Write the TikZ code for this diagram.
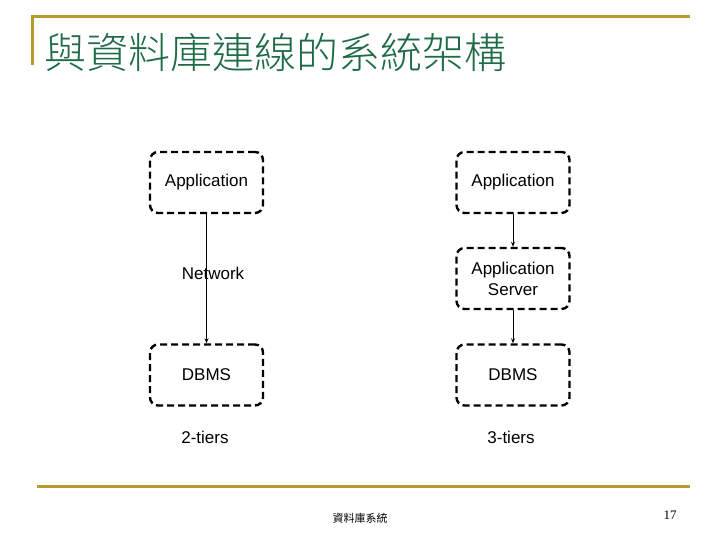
\documentclass[tikz,border=0pt]{standalone}
\usepackage{fontspec}
\setmainfont{Liberation Sans}
\newfontfamily\cjk{Noto Sans CJK TC}
\newfontfamily\cjklight{Noto Sans CJK TC Light}
\newfontfamily\serifnum{Liberation Serif}
\definecolor{gold}{HTML}{B89B2E}
\definecolor{tgreen}{HTML}{1E6B45}
\tikzset{
 tier/.style={draw, dashed, dash pattern=on 7pt off 4pt, line width=2.4pt, rounded corners=8pt, minimum width=113pt, minimum height=61pt, inner sep=0pt, align=center, font=\fontsize{17}{21}\selectfont},
 lbl/.style={font=\fontsize{17}{21}\selectfont, align=center},
 conn/.style={-{Stealth[length=5pt,width=4pt]}, line width=1pt}
}
\usetikzlibrary{arrows.meta}
\begin{document}
\begin{tikzpicture}[x=1pt,y=-1pt]
\useasboundingbox (0,0) rectangle (720,540);
\draw[gold, line width=3pt] (32,17) -- (690,17);
\draw[gold, line width=3pt] (32,15.5) -- (32,65);
\draw[gold, line width=3pt] (37,486) -- (690,486);
\node[anchor=west, text=tgreen, font=\cjklight\fontsize{42}{46}\selectfont, inner sep=0pt] (title) at (44,52) {與資料庫連線的系統架構};
\node[tier] (a1) at (206.5,182.5) {Application};
\node[lbl] (net) at (213,273) {Network};
\node[tier] (d1) at (206.5,375) {DBMS};
\node[tier] (a2) at (513,182.5) {Application};
\node[tier] (s2) at (513,278.5) {Application\\Server};
\node[tier] (d2) at (513,375) {DBMS};
\node[lbl] (t2) at (205,437) {2-tiers};
\node[lbl] (t3) at (511,437) {3-tiers};
\draw[conn] (a1.south) -- (d1.north);
\draw[conn] (a2.south) -- (s2.north);
\draw[conn] (s2.south) -- (d2.north);
\node[font=\cjk\fontsize{11}{12}\selectfont] (foot) at (360,518) {資料庫系統};
\node[font=\serifnum\fontsize{13}{14}\selectfont] (pg) at (670,515) {17};
\end{tikzpicture}
\end{document}
